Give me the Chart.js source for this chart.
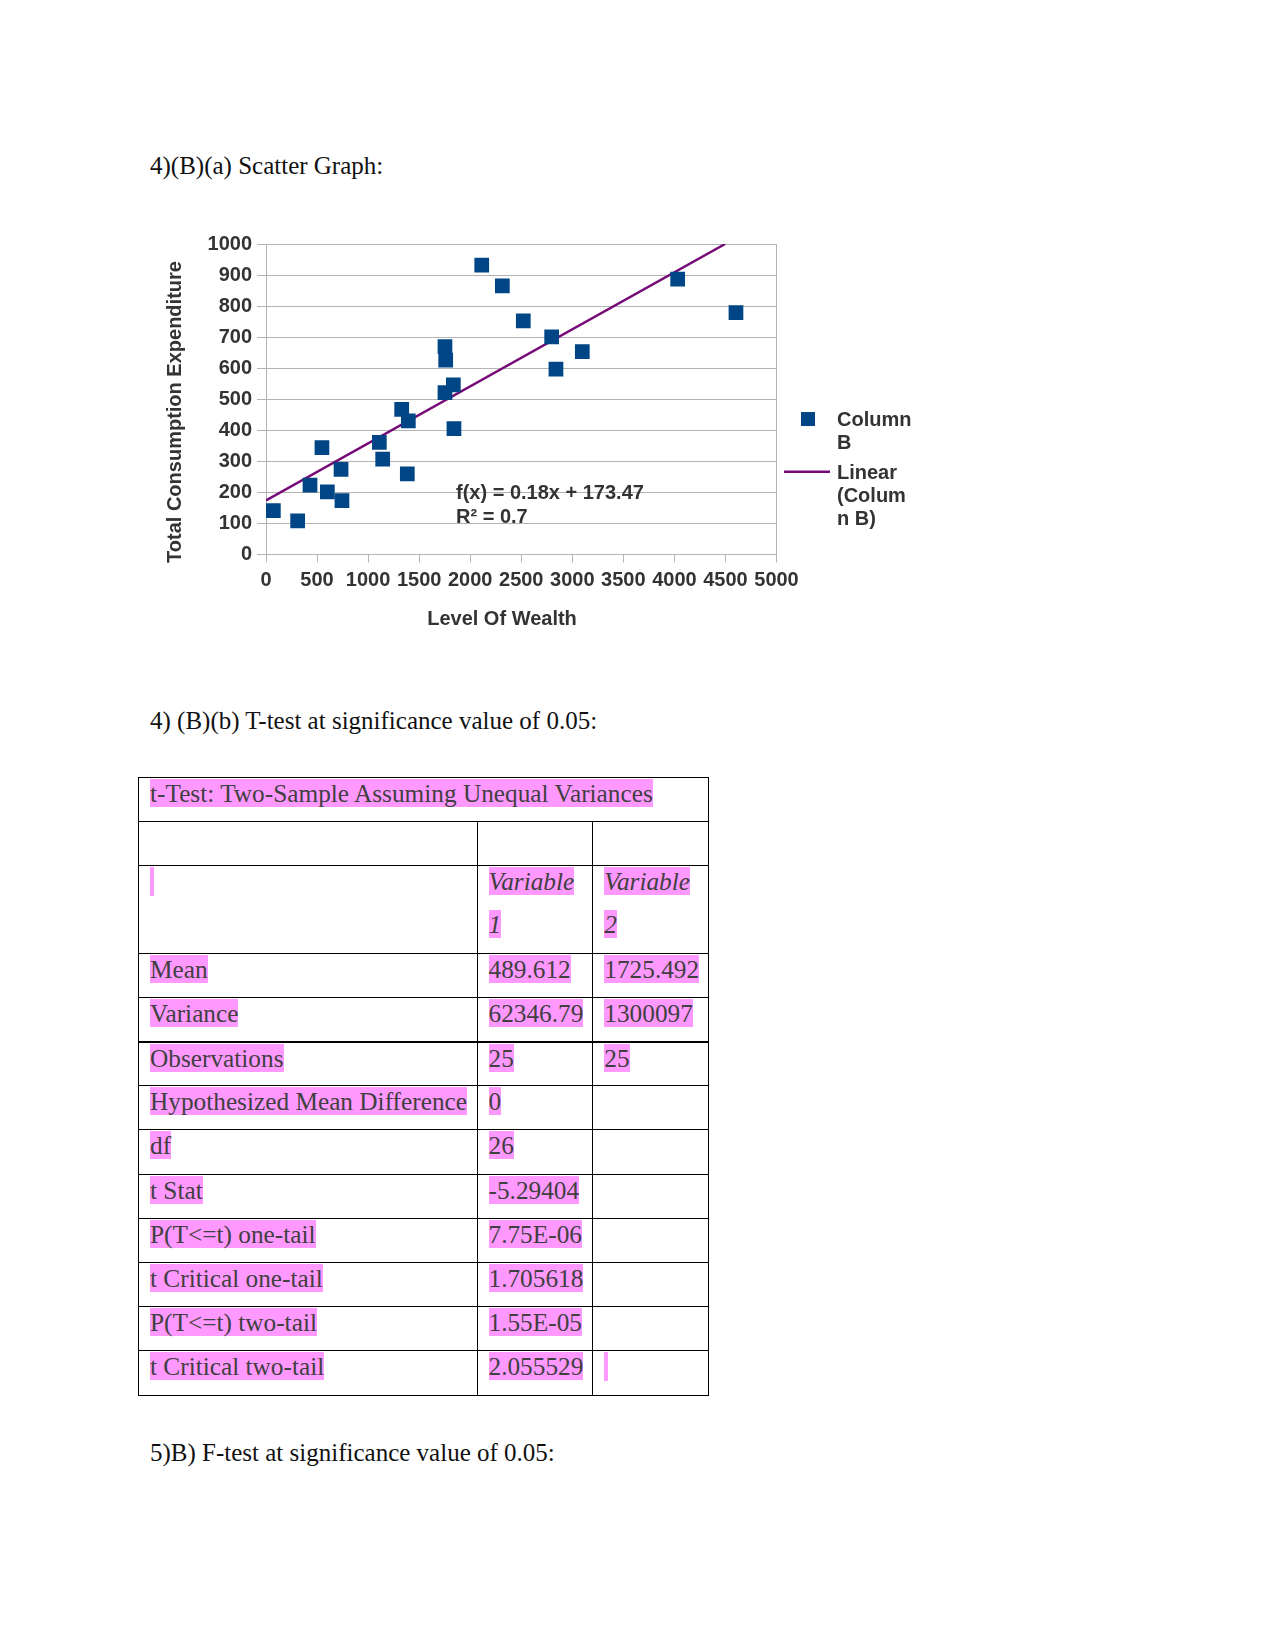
<!DOCTYPE html>
<html>
<head>
<meta charset="utf-8">
<script src="https://cdn.jsdelivr.net/npm/chart.js@4.4.1/dist/chart.umd.min.js"></script>
<style>
  body { margin: 0; background: #fff; }
  .page { position: relative; width: 1275px; height: 1650px; font-family: 'Liberation Serif', 'Times New Roman', serif; color: #111; }
  .heading { position: absolute; left: 150px; font-size: 25px; line-height: 30px; white-space: nowrap; }
  #scatter { position: absolute; left: 150px; top: 220px; }
  table.ttest { position: absolute; left: 138px; top: 777px; width: 570px; border-collapse: collapse; table-layout: fixed; font-size: 25.3px; color: #404040; }
  table.ttest td { border: 1px solid #000; padding: 0 0 0 11px; vertical-align: top; line-height: 30px; white-space: nowrap; overflow: visible; }
  table.ttest tr { height: 44.2px; }
  table.ttest tr.tall { height: 87.3px; }
  table.ttest tr.thick td { border-bottom: 2px solid #000; }
  .hl { background: #ff99ff; }
  .stub { display: inline-block; width: 4px; height: 29px; vertical-align: top; margin-top: 1px; background: #ff99ff; }
  em { font-style: italic; }
</style>
</head>
<body>
<div class="page">
  <div class="heading" style="top:151px">4)(B)(a) Scatter Graph:</div>
  <canvas id="scatter" width="800" height="440"></canvas>
  <div class="heading" style="top:706px">4) (B)(b) T-test at significance value of 0.05:</div>

  <table class="ttest">
    <colgroup><col style="width:338.5px"><col style="width:115.8px"><col style="width:115.7px"></colgroup>
    <tr><td colspan="3"><span class="hl">t-Test: Two-Sample Assuming Unequal Variances</span></td></tr>
    <tr><td></td><td></td><td></td></tr>
    <tr class="tall">
      <td><span class="stub"></span></td>
      <td><div><em class="hl">Variable</em></div><div style="margin-top:13px"><em class="hl">1</em></div></td>
      <td><div><em class="hl">Variable</em></div><div style="margin-top:13px"><em class="hl">2</em></div></td>
    </tr>
    <tr><td><span class="hl">Mean</span></td><td><span class="hl">489.612</span></td><td><span class="hl">1725.492</span></td></tr>
    <tr class="thick"><td><span class="hl">Variance</span></td><td><span class="hl">62346.79</span></td><td><span class="hl">1300097</span></td></tr>
    <tr><td><span class="hl">Observations</span></td><td><span class="hl">25</span></td><td><span class="hl">25</span></td></tr>
    <tr><td><span class="hl">Hypothesized Mean Difference</span></td><td><span class="hl">0</span></td><td></td></tr>
    <tr><td><span class="hl">df</span></td><td><span class="hl">26</span></td><td></td></tr>
    <tr><td><span class="hl">t Stat</span></td><td><span class="hl">-5.29404</span></td><td></td></tr>
    <tr><td><span class="hl">P(T&lt;=t) one-tail</span></td><td><span class="hl">7.75E-06</span></td><td></td></tr>
    <tr><td><span class="hl">t Critical one-tail</span></td><td><span class="hl">1.705618</span></td><td></td></tr>
    <tr><td><span class="hl">P(T&lt;=t) two-tail</span></td><td><span class="hl">1.55E-05</span></td><td></td></tr>
    <tr><td><span class="hl">t Critical two-tail</span></td><td><span class="hl">2.055529</span></td><td><span class="stub"></span></td></tr>
  </table>

  <div class="heading" style="top:1438px">5)B) F-test at significance value of 0.05:</div>
</div>

<script>
// Level of wealth (x) and total consumption expenditure (y)
const wealth = [72, 310, 431, 548, 601, 735, 744, 1110, 1143, 1329, 1384, 1394,
  1753, 1760, 1753, 1835, 1841, 2113, 2315, 2520, 2798, 2840, 3098, 4032, 4603];
const expenditure = [141, 108, 223, 344, 201, 274, 173, 361, 307, 467, 259, 430,
  669, 626, 521, 546, 405, 932, 865, 752, 701, 597, 653, 887, 779];

// linear trend line as shown on the chart
const TREND_SLOPE = 0.1838;
const TREND_INTERCEPT = 173.47;
const equationLines = ['f(x) = 0.18x + 173.47', 'R\u00b2 = 0.7'];

// axis ranges and titles
const X_MAX = 5000, X_STEP = 500;
const Y_MAX = 1000, Y_STEP = 100;
const xTitle = 'Level Of Wealth';
const yTitle = 'Total Consumption Expenditure';
const pointsLegend = ['Column', 'B'];
const trendLegend = ['Linear', '(Colum', 'n B)'];

const POINT_COLOR = '#004586';
const TREND_COLOR = '#760a76';
const TEXT_COLOR = '#333333';
const GRID_COLOR = '#b3b3b3';
const FONT = { family: "'Liberation Sans', Arial, sans-serif", size: 20, weight: 'bold' };

const points = wealth.map((x, i) => ({ x, y: expenditure[i] }));
const trendEndX = (Y_MAX - TREND_INTERCEPT) / TREND_SLOPE;
const trend = [0, trendEndX].map((x) => ({ x, y: TREND_SLOPE * x + TREND_INTERCEPT }));

// equation, axis titles and the wrapped legend, placed like the original
const notesPlugin = {
  id: 'notes',
  afterDraw(chart) {
    const { ctx } = chart;
    ctx.save();
    ctx.font = 'bold 20px "Liberation Sans", Arial, sans-serif';
    ctx.fillStyle = TEXT_COLOR;
    ctx.textBaseline = 'middle';

    ctx.textAlign = 'left';
    ctx.fillText(equationLines[0], 306, 273);
    ctx.fillText(equationLines[1], 306, 297);

    ctx.textAlign = 'center';
    ctx.fillText(xTitle, 352, 399);
    ctx.save();
    ctx.translate(25, 192);
    ctx.rotate(-Math.PI / 2);
    ctx.fillText(yTitle, 0, 0);
    ctx.restore();

    // legend
    ctx.fillStyle = POINT_COLOR;
    ctx.fillRect(651, 192, 14, 14);
    ctx.strokeStyle = TREND_COLOR;
    ctx.lineWidth = 2.5;
    ctx.beginPath();
    ctx.moveTo(634, 251.7);
    ctx.lineTo(680, 251.7);
    ctx.stroke();

    ctx.fillStyle = TEXT_COLOR;
    ctx.textAlign = 'left';
    pointsLegend.forEach((t, i) => ctx.fillText(t, 687, 200 + i * 23.3));
    trendLegend.forEach((t, i) => ctx.fillText(t, 687, 253.3 + i * 23.3));
    ctx.restore();
  },
};

new Chart(document.getElementById('scatter'), {
  type: 'scatter',
  data: {
    datasets: [
      {
        label: 'Column B',
        data: points,
        backgroundColor: POINT_COLOR,
        borderColor: POINT_COLOR,
        borderWidth: 0,
        pointStyle: 'rect',
        pointRadius: 10.4,
        order: 1,
      },
      {
        label: 'Linear (Column B)',
        data: trend,
        showLine: true,
        borderColor: TREND_COLOR,
        borderWidth: 2.5,
        pointRadius: 0,
        order: 2,
      },
    ],
  },
  plugins: [notesPlugin],
  options: {
    responsive: false,
    animation: false,
    devicePixelRatio: 1,
    layout: { padding: { top: 24, right: 173.5, left: 0, bottom: 0 } },
    plugins: { legend: { display: false }, tooltip: { enabled: false } },
    scales: {
      x: {
        type: 'linear',
        min: 0,
        max: X_MAX,
        afterFit: (scale) => { scale.height = 105.7; },
        ticks: {
          stepSize: X_STEP, color: TEXT_COLOR, font: FONT, padding: 6,
          autoSkip: false, maxRotation: 0, callback: (v) => String(v),
        },
        grid: {
          color: (c) => (c.tick && c.tick.value === X_MAX ? GRID_COLOR : 'rgba(0,0,0,0)'),
          tickColor: GRID_COLOR,
          tickLength: 8,
        },
        border: { color: GRID_COLOR },
      },
      y: {
        type: 'linear',
        min: 0,
        max: Y_MAX,
        afterFit: (scale) => { scale.width = 116; },
        ticks: { stepSize: Y_STEP, color: TEXT_COLOR, font: FONT, padding: 5, callback: (v) => String(v) },
        grid: { color: GRID_COLOR, tickColor: GRID_COLOR, tickLength: 9 },
        border: { color: GRID_COLOR },
      },
    },
  },
});
</script>
</body>
</html>
